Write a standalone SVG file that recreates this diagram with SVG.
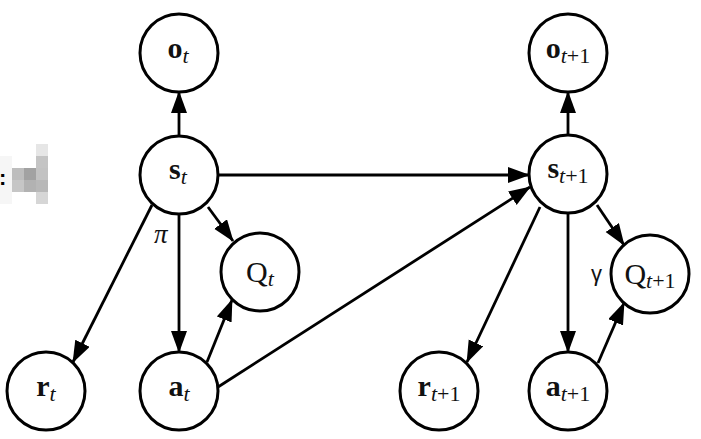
<svg xmlns="http://www.w3.org/2000/svg" width="701" height="439" viewBox="0 0 701 439">
<style>
.node circle{fill:#fff;stroke:#000;stroke-width:3}
.lbl{font-family:"Liberation Serif","DejaVu Serif",serif;font-size:30px;fill:#111;text-anchor:middle}
.b{font-weight:bold}
.sub{font-size:22px;font-style:italic;font-weight:normal}
.subn{font-size:22px;font-style:normal;font-weight:normal}
.edges line{stroke:#000;stroke-width:2.8;marker-end:url(#ah)}
.mos rect{stroke:none}
</style>
<defs>
<marker id="ah" markerUnits="userSpaceOnUse" markerWidth="24" markerHeight="18" refX="21" refY="8" orient="auto">
<path d="M0,0 L22,8 L0,16 z" fill="#000"/>
</marker>
</defs>
<rect width="701" height="439" fill="#fff"/>
<g id="mosaic" class="mos">
<rect x="0" y="156" width="12" height="48" fill="#f6f6f6"/>
<rect x="36" y="144" width="12" height="12" fill="#e6e6e6"/>
<rect x="36" y="156" width="12" height="12" fill="#c4c4c4"/>
<rect x="36" y="168" width="12" height="12" fill="#c2c2c2"/>
<rect x="36" y="180" width="12" height="12" fill="#b8b8b8"/>
<rect x="36" y="192" width="12" height="12" fill="#d6d6d6"/>
<rect x="24" y="168" width="12" height="12" fill="#a2a2a2"/>
<rect x="24" y="180" width="12" height="12" fill="#b2b2b2"/>
<rect x="12" y="168" width="12" height="12" fill="#bdbdbd"/>
<rect x="12" y="180" width="12" height="12" fill="#c6c6c6"/>
<text x="-1" y="185" font-family="Liberation Sans, sans-serif" font-weight="bold" font-size="22" fill="#000">:</text>
</g>
<g id="edges" class="edges">
<line x1="179" y1="136" x2="179" y2="92"/>
<line x1="208" y1="207" x2="233" y2="241"/>
<line x1="152" y1="205" x2="73" y2="362"/>
<line x1="179" y1="214" x2="179" y2="352"/>
<line x1="218" y1="175" x2="529" y2="175"/>
<line x1="207" y1="362" x2="232" y2="300"/>
<line x1="218" y1="387" x2="530" y2="187"/>
<line x1="568" y1="135" x2="568" y2="92"/>
<line x1="597" y1="205" x2="624" y2="245"/>
<line x1="540" y1="207" x2="467" y2="362"/>
<line x1="568" y1="213" x2="568" y2="352"/>
<line x1="598" y1="363" x2="624" y2="303"/>
</g>
<g id="labels">
<text x="154" y="243" font-family="Liberation Serif, serif" font-size="27" font-style="italic" fill="#111">π</text>
<text x="591" y="281" font-family="Liberation Sans, sans-serif" font-size="22" fill="#111">γ</text>
</g>
<g id="o_t" class="node"><circle cx="179" cy="53" r="39"/><text class="lbl" x="178" y="58"><tspan class="b">o</tspan><tspan class="sub" dy="5">t</tspan></text></g>
<g id="s_t" class="node"><circle cx="179" cy="175" r="39"/><text class="lbl" x="178" y="179"><tspan class="b">s</tspan><tspan class="sub" dy="5">t</tspan></text></g>
<g id="Q_t" class="node"><circle cx="260" cy="272" r="39"/><text class="lbl" x="260" y="282"><tspan>Q</tspan><tspan class="sub" dy="4">t</tspan></text></g>
<g id="r_t" class="node"><circle cx="46" cy="391" r="39"/><text class="lbl" x="46" y="396"><tspan class="b">r</tspan><tspan class="sub" dy="5">t</tspan></text></g>
<g id="a_t" class="node"><circle cx="179" cy="391" r="39"/><text class="lbl" x="179" y="396"><tspan class="b">a</tspan><tspan class="sub" dy="5">t</tspan></text></g>
<g id="o_t1" class="node"><circle cx="568" cy="53" r="39"/><text class="lbl" x="568" y="58"><tspan class="b">o</tspan><tspan class="sub" dy="5">t</tspan><tspan class="subn">+1</tspan></text></g>
<g id="s_t1" class="node"><circle cx="568" cy="174" r="39"/><text class="lbl" x="568" y="178"><tspan class="b">s</tspan><tspan class="sub" dy="5">t</tspan><tspan class="subn">+1</tspan></text></g>
<g id="Q_t1" class="node"><circle cx="650" cy="274" r="39"/><text class="lbl" x="650" y="284"><tspan>Q</tspan><tspan class="sub" dy="4">t</tspan><tspan class="subn">+1</tspan></text></g>
<g id="r_t1" class="node"><circle cx="439" cy="391" r="39"/><text class="lbl" x="439" y="396"><tspan class="b">r</tspan><tspan class="sub" dy="5">t</tspan><tspan class="subn">+1</tspan></text></g>
<g id="a_t1" class="node"><circle cx="568" cy="391" r="39"/><text class="lbl" x="568" y="396"><tspan class="b">a</tspan><tspan class="sub" dy="5">t</tspan><tspan class="subn">+1</tspan></text></g>
</svg>
